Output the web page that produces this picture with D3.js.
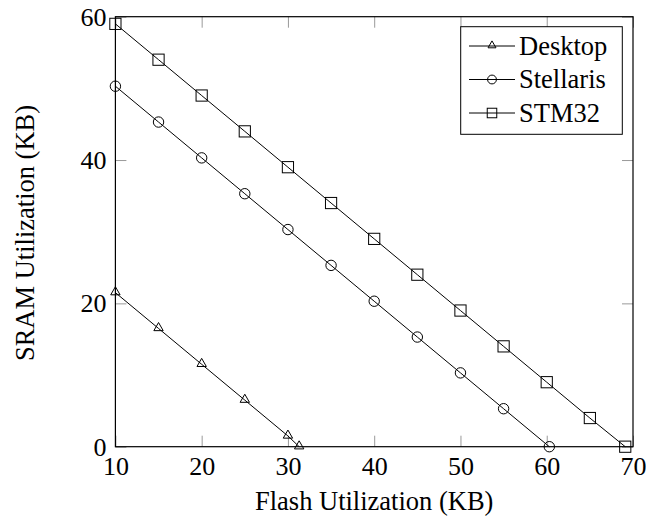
<!DOCTYPE html>
<html>
<head>
<meta charset="UTF-8">
<script src="https://cdn.jsdelivr.net/npm/d3@7"></script>
<style>
  body { margin: 0; background: #fff; }
  text { font-family: "Liberation Serif", "DejaVu Serif", serif; }
</style>
</head>
<body>
<script>
// data
var seriesNames = ["Desktop", "Stellaris", "STM32"];
var desktopX = [10, 15, 20, 25, 30, 31.3];
var desktopY = [21.5, 16.5, 11.5, 6.5, 1.5, 0];
var stellarisX = [10, 15, 20, 25, 30, 35, 40, 45, 50, 55, 60.3];
var stellarisY = [50.3, 45.3, 40.3, 35.3, 30.3, 25.3, 20.3, 15.3, 10.3, 5.3, 0];
var stm32X = [10, 15, 20, 25, 30, 35, 40, 45, 50, 55, 60, 65, 69.1];
var stm32Y = [59, 54, 49, 44, 39, 34, 29, 24, 19, 14, 9, 4, 0];
var xTicks = [10, 20, 30, 40, 50, 60, 70];
var yTicks = [0, 20, 40, 60];

var W = 646, H = 516;
var pLeft = 115.4, pRight = 633, pTop = 16.7, pBottom = 446.7;

var svg = d3.select("body").append("svg")
    .attr("width", W).attr("height", H);

var x = d3.scaleLinear().domain([10, 70]).range([pLeft, pRight]);
var y = d3.scaleLinear().domain([0, 60]).range([pBottom, pTop]);

var series = [
  {name: seriesNames[0], xs: desktopX, ys: desktopY, mark: "triangle"},
  {name: seriesNames[1], xs: stellarisX, ys: stellarisY, mark: "circle"},
  {name: seriesNames[2], xs: stm32X, ys: stm32Y, mark: "square"}
];

// ticks on all four sides (inward, gray)
var tickLen = 11;
var gx = svg.append("g").attr("transform", "translate(0," + pBottom + ")");
d3.axisBottom(x).tickValues(xTicks).tickSize(-tickLen).tickPadding(4)(gx);
gx.select(".domain").remove();
gx.selectAll("line").attr("stroke", "#999");
gx.selectAll("text").attr("font-size", 26).attr("fill", "#000")
    .attr("font-family", "Liberation Serif, serif").attr("dy", "0.93em");

var gxt = svg.append("g").attr("transform", "translate(0," + pTop + ")");
d3.axisTop(x).tickValues(xTicks).tickSize(-tickLen).tickFormat("")(gxt);
gxt.select(".domain").remove();
gxt.selectAll("line").attr("stroke", "#999");

var gy = svg.append("g").attr("transform", "translate(" + pLeft + ",0)");
d3.axisLeft(y).tickValues(yTicks).tickSize(-tickLen).tickPadding(9)(gy);
gy.select(".domain").remove();
gy.selectAll("line").attr("stroke", "#999");
gy.selectAll("text").attr("font-size", 26).attr("fill", "#000")
    .attr("font-family", "Liberation Serif, serif");

var gyr = svg.append("g").attr("transform", "translate(" + pRight + ",0)");
d3.axisRight(y).tickValues(yTicks).tickSize(-tickLen).tickFormat("")(gyr);
gyr.select(".domain").remove();
gyr.selectAll("line").attr("stroke", "#999");

// frame
svg.append("rect")
    .attr("x", pLeft).attr("y", pTop)
    .attr("width", pRight - pLeft).attr("height", pBottom - pTop)
    .attr("fill", "none").attr("stroke", "#000").attr("stroke-width", 1.2);

function drawMark(g, type, cx, cy, k) {
  k = k || 1;
  if (type === "circle") {
    g.append("circle").attr("cx", cx).attr("cy", cy).attr("r", 5.2 * k)
        .attr("fill", "none").attr("stroke", "#000");
  } else if (type === "square") {
    g.append("rect").attr("x", cx - 5.6 * k).attr("y", cy - 5.6 * k)
        .attr("width", 11.2 * k).attr("height", 11.2 * k)
        .attr("fill", "none").attr("stroke", "#000");
  } else {
    g.append("path")
        .attr("d", d3.symbol(d3.symbolTriangle, 38 * k * k)())
        .attr("transform", "translate(" + cx + "," + (cy - 0.5) + ")")
        .attr("fill", "none").attr("stroke", "#000");
  }
}

var line = d3.line().x(function(d) { return x(d[0]); }).y(function(d) { return y(d[1]); });

series.forEach(function(s) {
  var pts = s.xs.map(function(v, i) { return [v, s.ys[i]]; });
  var g = svg.append("g");
  g.append("path").datum(pts).attr("d", line)
      .attr("fill", "none").attr("stroke", "#000").attr("stroke-width", 1);
  pts.forEach(function(p) { drawMark(g, s.mark, x(p[0]), y(p[1])); });
});

// legend
var lg = svg.append("g");
lg.append("rect").attr("x", 460.7).attr("y", 26.7)
    .attr("width", 161.6).attr("height", 107.6)
    .attr("fill", "#fff").attr("stroke", "#000").attr("stroke-width", 1);
series.forEach(function(s, i) {
  var ly = 46 + i * 33.5;
  lg.append("line").attr("x1", 469).attr("x2", 515).attr("y1", ly).attr("y2", ly)
      .attr("stroke", "#000");
  drawMark(lg, s.mark, 492, ly, 0.85);
  lg.append("text").attr("x", 519).attr("y", ly).attr("dy", "0.33em")
      .attr("font-size", 26.5).text(s.name);
});

// axis labels
svg.append("text").attr("x", (pLeft + pRight) / 2).attr("y", 510)
    .attr("text-anchor", "middle").attr("font-size", 26.5)
    .text("Flash Utilization (KB)");
svg.append("text")
    .attr("transform", "translate(34,233) rotate(-90)")
    .attr("text-anchor", "middle").attr("font-size", 26.5)
    .text("SRAM Utilization (KB)");
</script>
</body>
</html>
